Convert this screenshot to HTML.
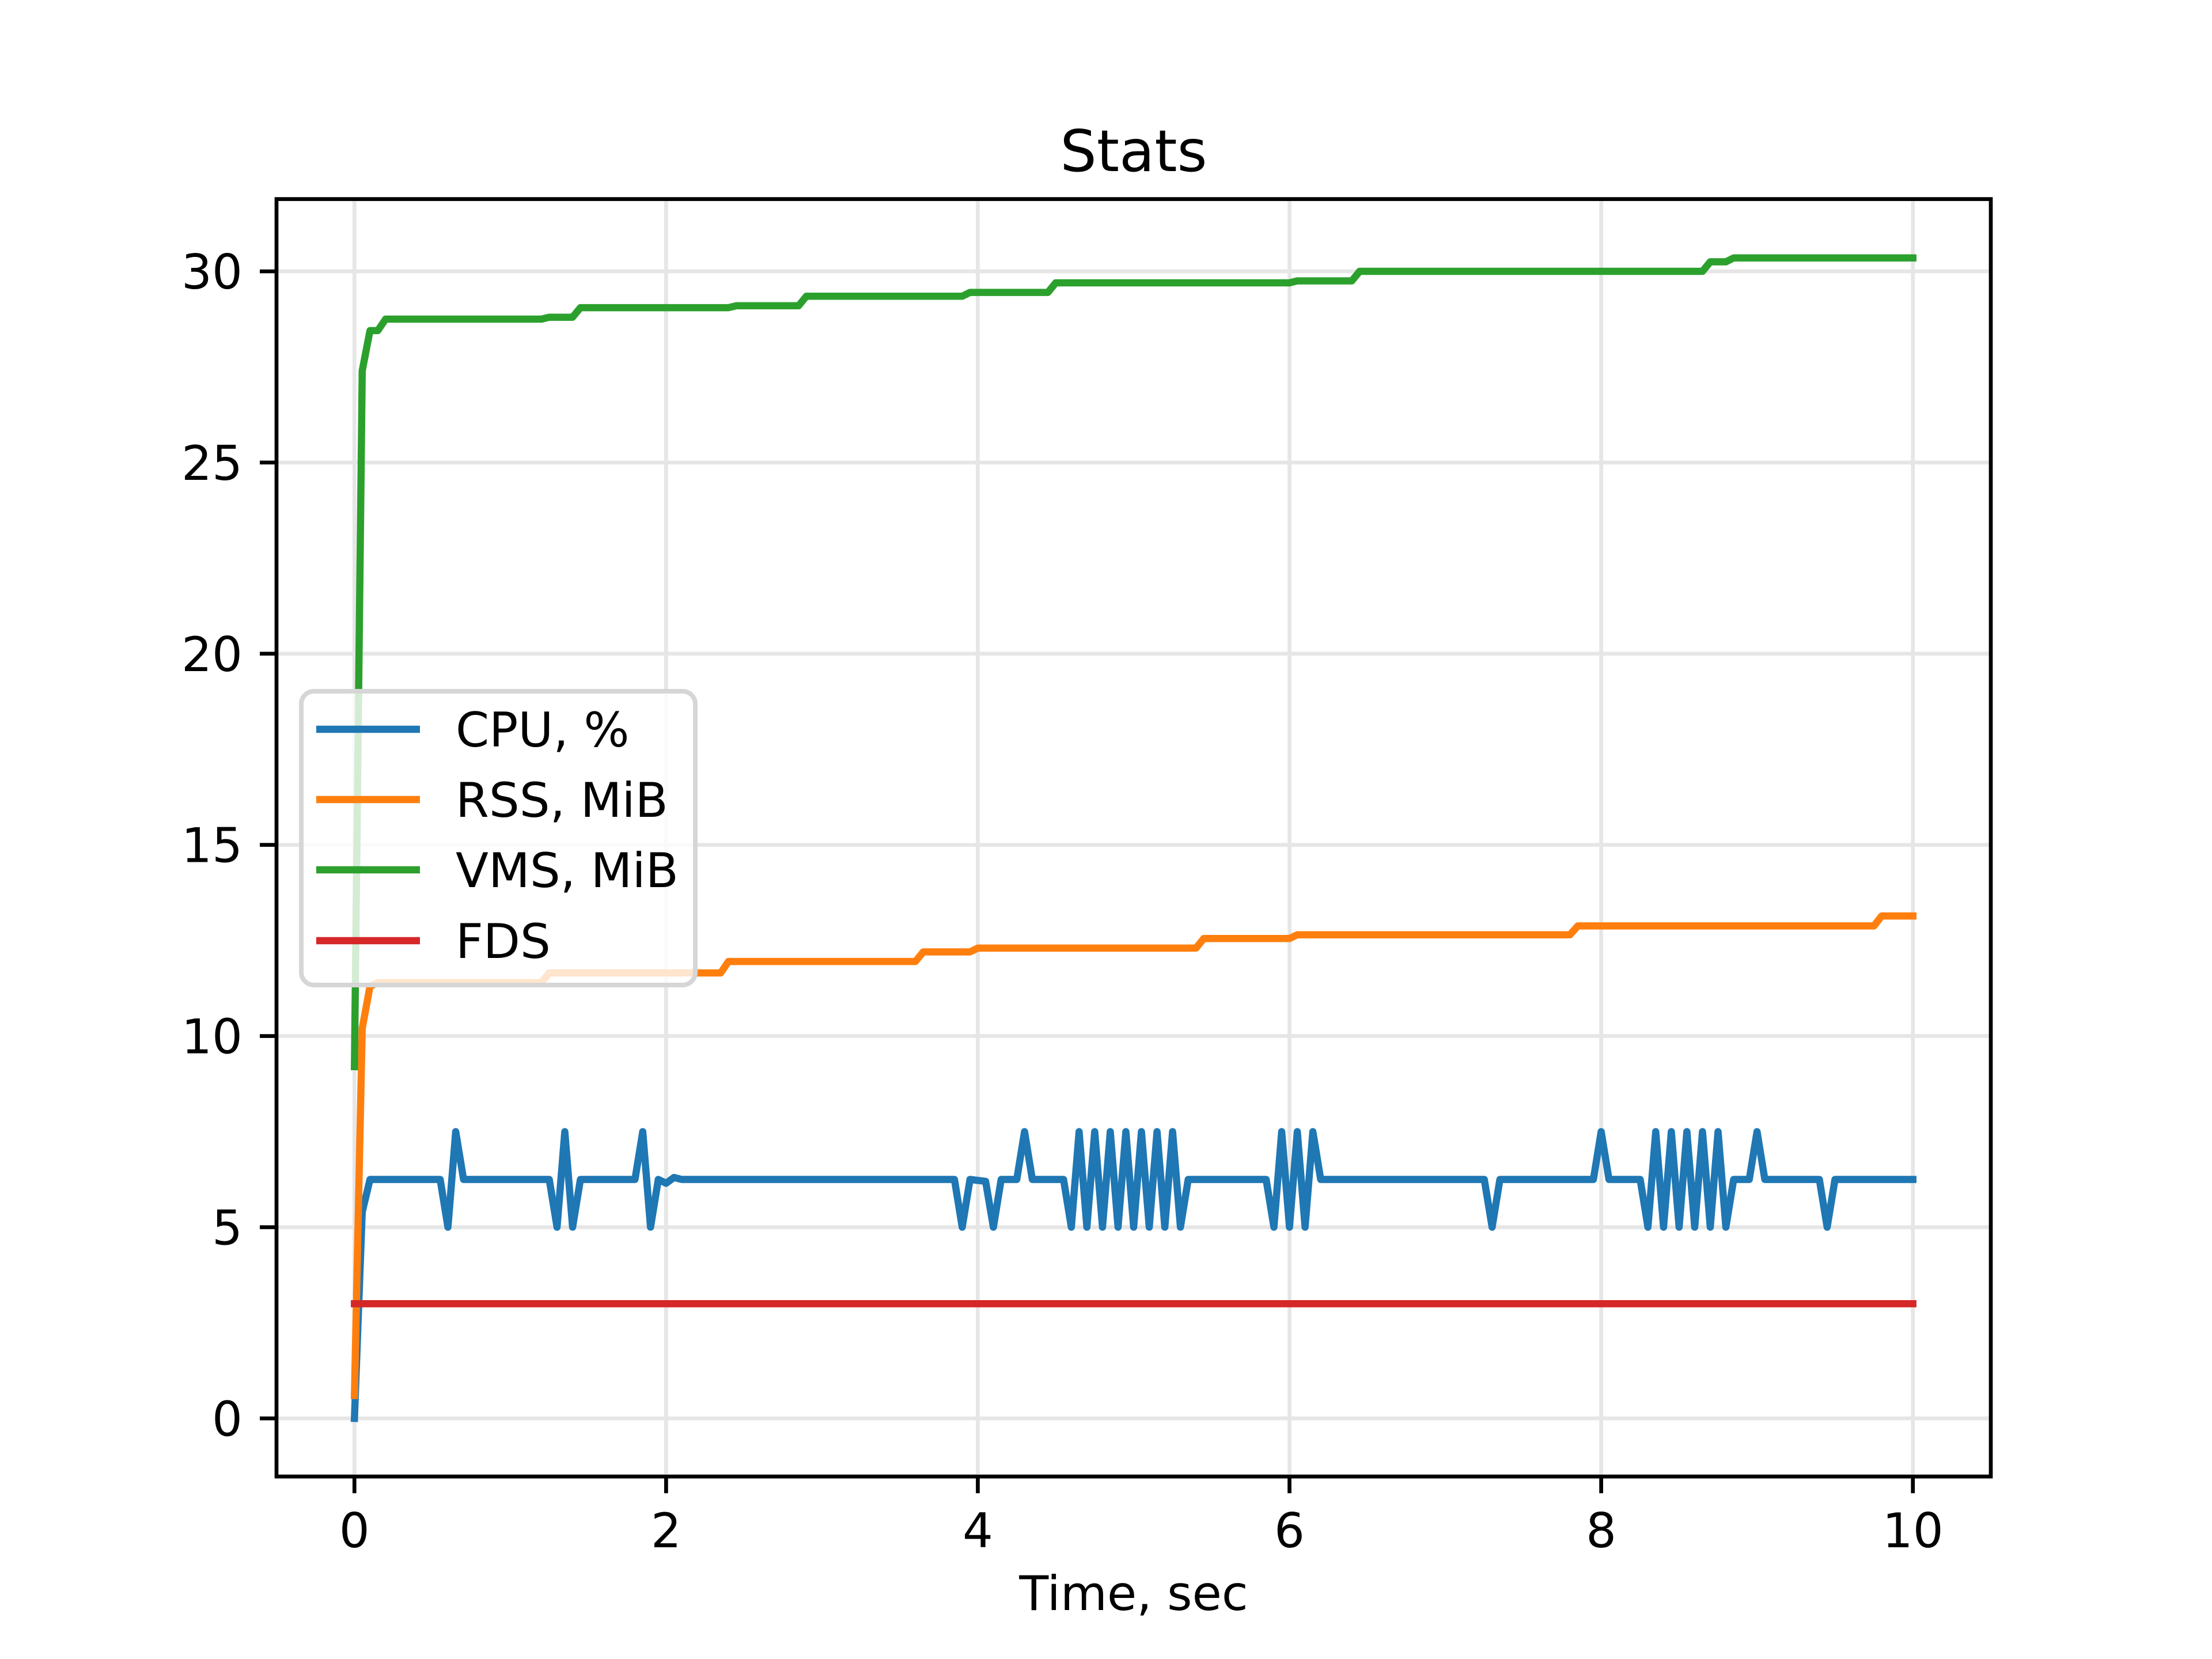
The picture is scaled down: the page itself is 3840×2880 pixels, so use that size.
<!DOCTYPE html>
<html><head><meta charset="utf-8"><style>
html,body{margin:0;padding:0;background:#fff;}
svg{display:block;}
text{font-family:"DejaVu Sans","Liberation Sans",sans-serif;fill:#000;}
</style></head><body>
<svg id="chart" width="3840" height="2880" viewBox="0 0 3840 2880" xmlns="http://www.w3.org/2000/svg">
<rect width="3840" height="2880" fill="#fff"/>
<g id="grid"></g>
<g id="series"></g>
<rect x="480" y="345.6" width="2976" height="2217.6" fill="none" stroke="#000" stroke-width="6.7"/>
<g id="ticks"></g>
<text x="1968" y="297" font-size="100" text-anchor="middle">Stats</text>
<text x="1968" y="2795" font-size="83.3" text-anchor="middle">Time, sec</text>
<g id="legend"></g>
</svg>
<script>
const xTicks = [0, 2, 4, 6, 8, 10];
const yTicks = [0, 5, 10, 15, 20, 25, 30];
const seriesNames = ["CPU, %", "RSS, MiB", "VMS, MiB", "FDS"];
const seriesColors = ["#1f77b4", "#ff7f0e", "#2ca02c", "#d62728"];

const cpuTimes = [0,0.05,0.1,0.55,0.6,0.65,0.7,1.25,1.3,1.35,1.4,1.45,1.8,1.85,1.9,1.95,2.0,2.05,2.1,3.85,3.9,3.95,4.05,4.1,4.15,4.25,4.3,4.35,4.55,
  4.6,4.65,4.7,4.75,4.8,4.85,4.9,4.95,5.0,5.05,5.1,5.15,5.2,5.25,5.3,5.35,5.85,5.9,5.95,6.0,6.05,6.1,6.15,6.2,7.25,7.3,7.35,7.95,8.0,8.05,8.25,
  8.3,8.35,8.4,8.45,8.5,8.55,8.6,8.65,8.7,8.75,8.8,8.85,8.95,9.0,9.05,9.4,9.45,9.5,10];
const cpuValues = [0,5.4,6.25,6.25,5,7.5,6.25,6.25,5,7.5,5,6.25,6.25,7.5,5,6.25,6.15,6.3,6.25,6.25,5,6.25,6.2,5,6.25,6.25,7.5,6.25,6.25,
  5,7.5,5,7.5,5,7.5,5,7.5,5,7.5,5,7.5,5,7.5,5,6.25,6.25,5,7.5,5,7.5,5,7.5,6.25,6.25,5,6.25,6.25,7.5,6.25,6.25,
  5,7.5,5,7.5,5,7.5,5,7.5,5,7.5,5,6.25,6.25,7.5,6.25,6.25,5,6.25,6.25];

const rssTimes = [0,0.05,0.1,0.15,1.2,1.25,2.35,2.4,3.6,3.65,3.95,4.0,5.4,5.45,6.0,6.05,7.8,7.85,9.75,9.8,10];
const rssValues = [0.6,10.2,11.3,11.4,11.4,11.65,11.65,11.95,11.95,12.2,12.2,12.3,12.3,12.55,12.55,12.65,12.65,12.88,12.88,13.14,13.14];

const vmsTimes = [0,0.05,0.1,0.15,0.2,1.2,1.25,1.4,1.45,2.4,2.45,2.85,2.9,3.9,3.95,4.45,4.5,6.0,6.05,6.4,6.45,8.65,8.7,8.8,8.85,10];
const vmsValues = [9.2,27.4,28.45,28.45,28.75,28.75,28.8,28.8,29.05,29.05,29.1,29.1,29.35,29.35,29.45,29.45,29.7,29.7,29.75,29.75,30.0,30.0,30.25,30.25,30.35,30.35];

const fdsTimes = [0, 10];
const fdsValues = [3, 3];

const NS = "http://www.w3.org/2000/svg";
const AX = {l:480, r:3456, t:345.6, b:3456*0 + 2563.2};
const xMin = -0.5, xMax = 10.5, yMin = -1.52, yMax = 31.89;
function xs(v){ return AX.l + (v - xMin) / (xMax - xMin) * (AX.r - AX.l); }
function ys(v){ return AX.b - (v - yMin) / (yMax - yMin) * (AX.b - AX.t); }
function mk(tag, attrs, parent){ const e = document.createElementNS(NS, tag); for (const k in attrs) e.setAttribute(k, attrs[k]); parent.appendChild(e); return e; }

const grid = document.getElementById('grid');
const ticks = document.getElementById('ticks');
xTicks.forEach(v => {
  const g = mk('line', {x1:xs(v), x2:xs(v), y1:AX.t, y2:AX.b, stroke:'#e6e6e6', 'stroke-width':6.7}, grid);
  
  
  const t = mk('line', {x1:xs(v), x2:xs(v), y1:AX.b, y2:AX.b+29, stroke:'#000', 'stroke-width':6.7}, ticks);
  
  
  const l = mk('text', {x:xs(v), y:2686, 'font-size':83.3, 'text-anchor':'middle'}, ticks);
  l.textContent = String(v);
  
  
});
yTicks.forEach(v => {
  const g = mk('line', {x1:AX.l, x2:AX.r, y1:ys(v), y2:ys(v), stroke:'#e6e6e6', 'stroke-width':6.7}, grid);
  
  
  const t = mk('line', {x1:AX.l-29, x2:AX.l, y1:ys(v), y2:ys(v), stroke:'#000', 'stroke-width':6.7}, ticks);
  
  
  const l = mk('text', {x:421, y:ys(v)+30, 'font-size':83.3, 'text-anchor':'end'}, ticks);
  l.textContent = String(v);
  
  
});

const seriesLayer = document.getElementById('series');
const allT = [cpuTimes, rssTimes, vmsTimes, fdsTimes];
const allV = [cpuValues, rssValues, vmsValues, fdsValues];
const order = [0,1,2,3];
const seriesIds = ['cpu-line','rss-line','vms-line','fds-line'];
order.forEach(i => {
  const d = allT[i].map((t, j) => (j ? 'L' : 'M') + xs(t).toFixed(1) + ' ' + ys(allV[i][j]).toFixed(1)).join(' ');
  const p = mk('path', {d:d, fill:'none', stroke:seriesColors[i], 'stroke-width':12.5, 'stroke-linejoin':'round', 'stroke-linecap':'square'}, seriesLayer);
  
  
});

const legend = document.getElementById('legend');
const box = mk('rect', {x:523, y:1200, width:684, height:510, rx:22, fill:'#fff', 'fill-opacity':0.8, stroke:'#d6d6d6', 'stroke-width':8}, legend);


const legY = [1266, 1388, 1510, 1633];
seriesNames.forEach((n, i) => {
  const ln = mk('line', {x1:549, x2:729, y1:legY[i], y2:legY[i], stroke:seriesColors[i], 'stroke-width':12.5}, legend);
  
  
  const tx = mk('text', {x:791, y:legY[i]+30, 'font-size':83.3}, legend);
  tx.textContent = n;
  
  
});
</script>
</body></html>
